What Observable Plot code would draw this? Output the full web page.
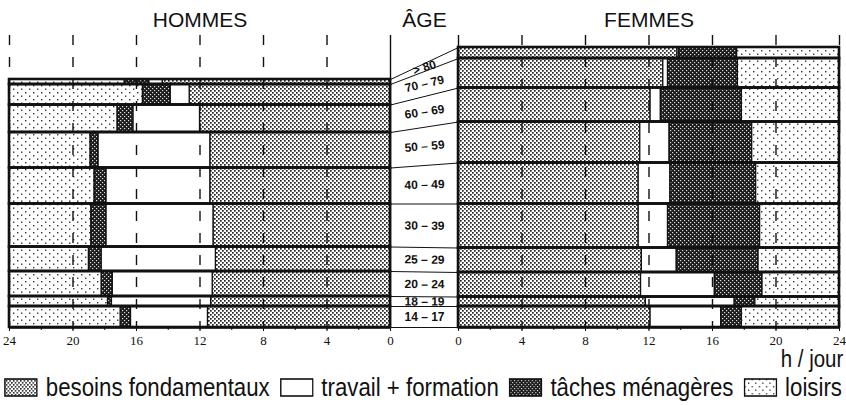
<!DOCTYPE html>
<html><head><meta charset="utf-8">
<script src="https://cdn.jsdelivr.net/npm/d3@7"></script>
<script src="https://cdn.jsdelivr.net/npm/@observablehq/plot@0.6"></script>
<style>
body{margin:0;background:#fff;}
#wrap{position:relative;width:846px;height:405px;overflow:hidden;font-family:"Liberation Sans",Arial,sans-serif;color:#111;}
#unit{position:absolute;right:3px;top:346px;font-size:23px;transform:scaleX(0.89);transform-origin:100% 0;}
#legend{position:absolute;left:4px;top:373px;display:flex;align-items:center;font-size:25px;white-space:nowrap;transform:scaleX(0.89);transform-origin:0 0;}
#legend .it{display:flex;align-items:center;margin-right:11px;}
</style>
</head><body>
<svg width="0" height="0" style="position:absolute">
<defs>
<pattern id="pBes" width="4" height="4" patternUnits="userSpaceOnUse">
<rect width="4" height="4" fill="#fff"/>
<rect x="0" y="0" width="1.7" height="1.7" fill="#222"/>
<rect x="2" y="2" width="1.7" height="1.7" fill="#222"/>
</pattern>
<pattern id="pTra" width="4" height="4" patternUnits="userSpaceOnUse">
<rect width="4" height="4" fill="#fff"/>
</pattern>
<pattern id="pTac" width="4" height="4" patternUnits="userSpaceOnUse">
<rect width="4" height="4" fill="#1c1c1c"/>
<rect x="0" y="0" width="1.2" height="1.2" fill="#ddd"/>
<rect x="2" y="2" width="1.2" height="1.2" fill="#ddd"/>
</pattern>
<pattern id="pLoi" width="8" height="7" patternUnits="userSpaceOnUse">
<rect width="8" height="7" fill="#fff"/>
<rect x="1" y="1" width="1.4" height="1.4" fill="#333"/>
<rect x="5" y="4.5" width="1.4" height="1.4" fill="#333"/>
</pattern>
</defs>
</svg>
<div id="wrap">
<div id="chart"></div>
<div id="unit">h / jour</div>
<div id="legend"></div>
</div>
<script>
// ---- data (ages listed from bottom to top) ----
const ages = ["14 – 17","18 – 19","20 – 24","25 – 29","30 – 39","40 – 49","50 – 59","60 – 69","70 – 79","> 80"];
const popHommes = [210,100,250,245,430,360,355,275,205,50];
const popFemmes = [210,95,245,245,440,410,410,340,295,110];
const categories = ["besoins fondamentaux","travail + formation","tâches ménagères","loisirs"];
const hommesBesoins = [11.5,11.3,11.2,11.0,11.15,11.35,11.35,12.0,12.65,14.35];
const hommesTravail = [4.85,6.25,6.3,7.2,6.75,6.55,7.05,4.2,1.2,0.85];
const hommesTaches  = [0.65,0.25,0.7,0.8,0.95,0.75,0.5,1.0,1.75,1.55];
const hommesLoisirs = [7.0,6.2,5.8,5.0,5.15,5.35,5.1,6.8,8.4,7.25];
const femmesBesoins = [12.1,11.8,11.5,11.55,11.35,11.35,11.45,12.1,12.9,13.8];
const femmesTravail = [4.45,5.6,4.65,2.2,1.85,2.0,1.85,0.65,0.3,0.1];
const femmesTaches  = [1.3,1.3,3.0,5.15,5.8,5.4,5.2,5.1,4.4,3.65];
const femmesLoisirs = [6.15,5.3,4.85,5.1,5.0,5.25,5.5,6.15,6.4,6.45];
const hourTicks = [0,4,8,12,16,20,24];
const hourMinor = [0,2,4,6,8,10,12,14,16,18,20,22,24];
const gridHours = [4,8,12,16,20,24];

// ---- layout ----
const G = 24*34/381;         // half gap between the two panels, in hours
const H = 24 + G;
const fills = ["url(#pBes)","url(#pTra)","url(#pTac)","url(#pLoi)"];
const yTop = 2800, yTicksTop = 2920, yTitle = 3075;
const pxPerY = 280/2800;

const sexes = [
  {side:-1, pop:popHommes, vals:[hommesBesoins,hommesTravail,hommesTaches,hommesLoisirs]},
  {side: 1, pop:popFemmes, vals:[femmesBesoins,femmesTravail,femmesTaches,femmesLoisirs]}
];
const segs = [], rows = [], cums = [];
for (const s of sexes) {
  let p = 0; const cum = [0];
  ages.forEach((a,i) => {
    const p2 = p + s.pop[i];
    let h = 0;
    categories.forEach((c,j) => {
      const h2 = h + s.vals[j][i];
      segs.push({cat:j, u1:s.side*(h+G), u2:s.side*(h2+G), p1:p, p2});
      h = h2;
    });
    rows.push({u1:s.side*G, u2:s.side*H, p1:p, p2});
    p = p2; cum.push(p);
  });
  cums.push(cum);
}
const links = cums[0].map((v,k) => ({y1:v, y2:cums[1][k]}));
const labels = ages.map((a,i) => {
  const m = (cums[0][i]+cums[0][i+1])/2, f = (cums[1][i]+cums[1][i+1])/2;
  const ang = Math.atan2(-(f-m)*pxPerY, 2*G*381/24)*180/Math.PI*0.75;
  return {a, y:(m+f)/2, r:ang};
});
const grid = [];
for (const side of [-1,1]) for (const h of gridHours) grid.push({u: side*(h+G)});
const majorU = [], minorU = [];
for (const side of [-1,1]) { hourTicks.forEach(h => majorU.push(side*(h+G))); hourMinor.forEach(h => minorU.push(side*(h+G))); }

const plot = Plot.plot({
  width: 846, height: 348,
  marginLeft: 9, marginRight: 7, marginTop: 47, marginBottom: 21,
  x: {domain: [-H, H], axis: null},
  y: {domain: [0, yTop], axis: null},
  style: {background: "#fff", overflow: "visible"},
  marks: [
    ...categories.map((c,j) => Plot.rect(segs.filter(d => d.cat === j), {x1:"u1", x2:"u2", y1:"p1", y2:"p2", fill: fills[j], stroke:"#111", strokeWidth:1.3})),
    Plot.rect(rows, {x1:"u1", x2:"u2", y1:"p1", y2:"p2", fill:"none", stroke:"#111", strokeWidth:2.6}),
    Plot.ruleX(grid, {x:"u", y1: yTicksTop, y2: 0, stroke:"#111", strokeWidth:1.4, strokeDasharray:"10,12"}),
    Plot.ruleX([-G, G], {y1: yTicksTop, y2: 0, stroke:"#111", strokeWidth:1.4}),
    Plot.link(links, {x1: -G, x2: G, y1:"y1", y2:"y2", stroke:"#111", strokeWidth:1}),
    Plot.text(labels, {x: 0, y:"y", text:"a", rotate:"r", fontWeight:"bold", fontSize:12, fontFamily:"Liberation Sans, Arial, sans-serif", fill:"#111"}),
    Plot.link([-1,1], {x1: s => s*G, x2: s => s*H, y1: 0, y2: 0, stroke:"#111", strokeWidth:2.5}),
    Plot.axisX({ticks: minorU, tickSize: 3, tickFormat: null, text: null, stroke:"#111"}),
    Plot.axisX({ticks: majorU, tickSize: 4, tickPadding: 4, tickFormat: u => String(Math.round(Math.abs(u) - G)), fontFamily: "Liberation Serif, serif", fontSize: 13, fill:"#111", stroke:"#111"}),
    Plot.text(["HOMMES","ÂGE","FEMMES"], {x: (d,i) => (i-1)*(12+G), y: yTitle, text: d => d, fontSize: 21, fontFamily: "Liberation Sans, Arial, sans-serif", fill:"#111"})
  ]
});
document.getElementById("chart").appendChild(plot);

const lg = document.getElementById("legend");
categories.forEach((c,j) => {
  const it = document.createElement("div"); it.className = "it";
  const sw = document.createElementNS("http://www.w3.org/2000/svg","svg");
  sw.setAttribute("width","38"); sw.setAttribute("height","19"); sw.style.marginRight = "9px";
  sw.innerHTML = `<rect x="1" y="1" width="36" height="17" fill="${fills[j]}" stroke="#111" stroke-width="1.6"/>`;
  it.appendChild(sw);
  const t = document.createElement("span"); t.textContent = c; it.appendChild(t);
  lg.appendChild(it);
});
</script>
</body></html>
